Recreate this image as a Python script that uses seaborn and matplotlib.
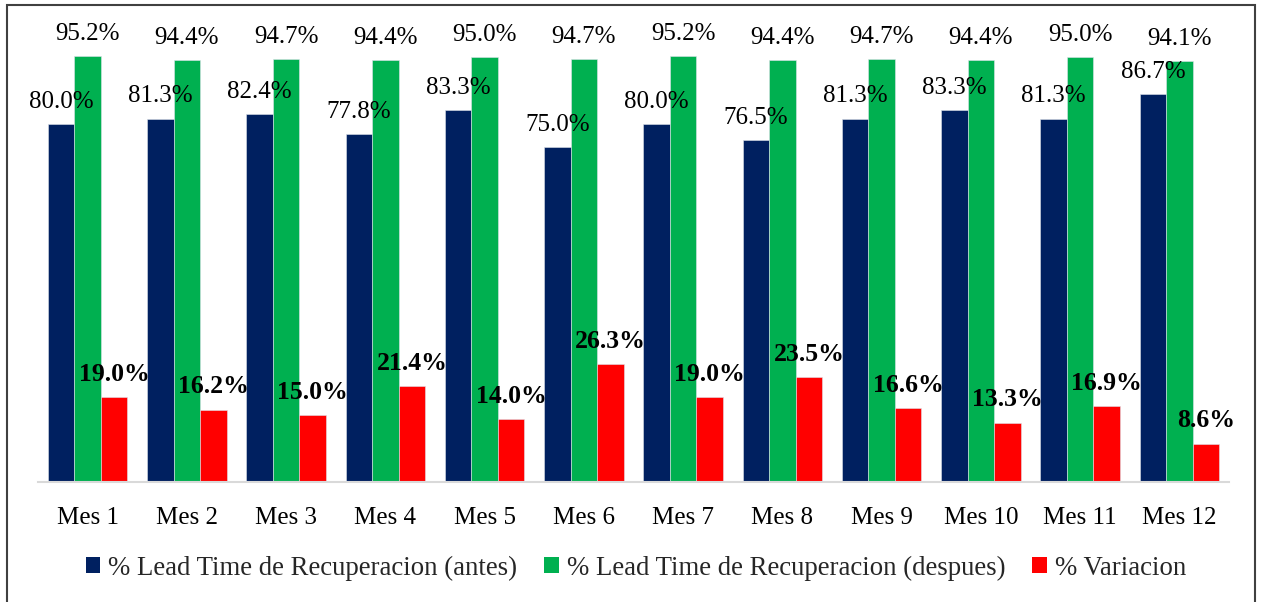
import matplotlib
matplotlib.use("Agg")
import matplotlib.pyplot as plt
import seaborn as sns
import pandas as pd
from matplotlib.patches import Patch, Rectangle

meses = ["Mes 1", "Mes 2", "Mes 3", "Mes 4", "Mes 5", "Mes 6",
         "Mes 7", "Mes 8", "Mes 9", "Mes 10", "Mes 11", "Mes 12"]
antes = [80.0, 81.3, 82.4, 77.8, 83.3, 75.0, 80.0, 76.5, 81.3, 83.3, 81.3, 86.7]
despues = [95.2, 94.4, 94.7, 94.4, 95.0, 94.7, 95.2, 94.4, 94.7, 94.4, 95.0, 94.1]
variacion = [19.0, 16.2, 15.0, 21.4, 14.0, 26.3, 19.0, 23.5, 16.6, 13.3, 16.9, 8.6]

series = ["% Lead Time de Recuperacion (antes)",
          "% Lead Time de Recuperacion (despues)",
          "% Variacion"]
colors = ["#002060", "#00B050", "#FF0000"]

df = pd.concat([
    pd.DataFrame({"mes": meses, "serie": series[0], "valor": antes}),
    pd.DataFrame({"mes": meses, "serie": series[1], "valor": despues}),
    pd.DataFrame({"mes": meses, "serie": series[2], "valor": variacion}),
])

sns.set_style("white")
plt.rcParams["font.family"] = ["Liberation Serif", "DejaVu Serif"]

fig = plt.figure(figsize=(12.64, 6.02), dpi=100)
ax = fig.add_axes([38 / 1264, 120 / 602, (1229 - 38) / 1264, 447 / 602])

sns.barplot(data=df, x="mes", y="valor", hue="serie", order=meses,
            hue_order=series, palette=colors, saturation=1, width=0.8, ax=ax,
            edgecolor="#DDE3EA", linewidth=0.4, legend=False, errorbar=None)

ax.set_ylim(0, 100)
ax.set_xlim(-0.5, len(meses) - 0.5)
ax.set_xlabel("")
ax.set_ylabel("")
ax.set_yticks([])
for s in ["top", "right", "left"]:
    ax.spines[s].set_visible(False)
ax.spines["bottom"].set_color("#D9D9D9")
ax.spines["bottom"].set_linewidth(1.5)
ax.tick_params(axis="x", length=0, pad=18, labelsize=18, labelcolor="black")

for i, cont in enumerate(ax.containers):
    ax.bar_label(cont, fmt="%.1f%%", padding=8, fontsize=18.5 if i == 2 else 18,
                 fontweight="bold" if i == 2 else "normal", color="black")

handles = [Patch(facecolor=c, edgecolor="none") for c in colors]
fig.legend(handles, series, loc="center", bbox_to_anchor=(636 / 1264, 34 / 602),
           ncol=3, frameon=False, fontsize=19.3, handlelength=0.55, handleheight=0.55,
           handletextpad=0.3, columnspacing=1.0)

fig.patches.append(Rectangle((7 / 1264, -0.01), (1255 - 7) / 1264, 1 - 5 / 602 + 0.01,
                             transform=fig.transFigure, fill=False,
                             edgecolor="#404040", linewidth=1.5))

fig.savefig("out.png", dpi=100)
